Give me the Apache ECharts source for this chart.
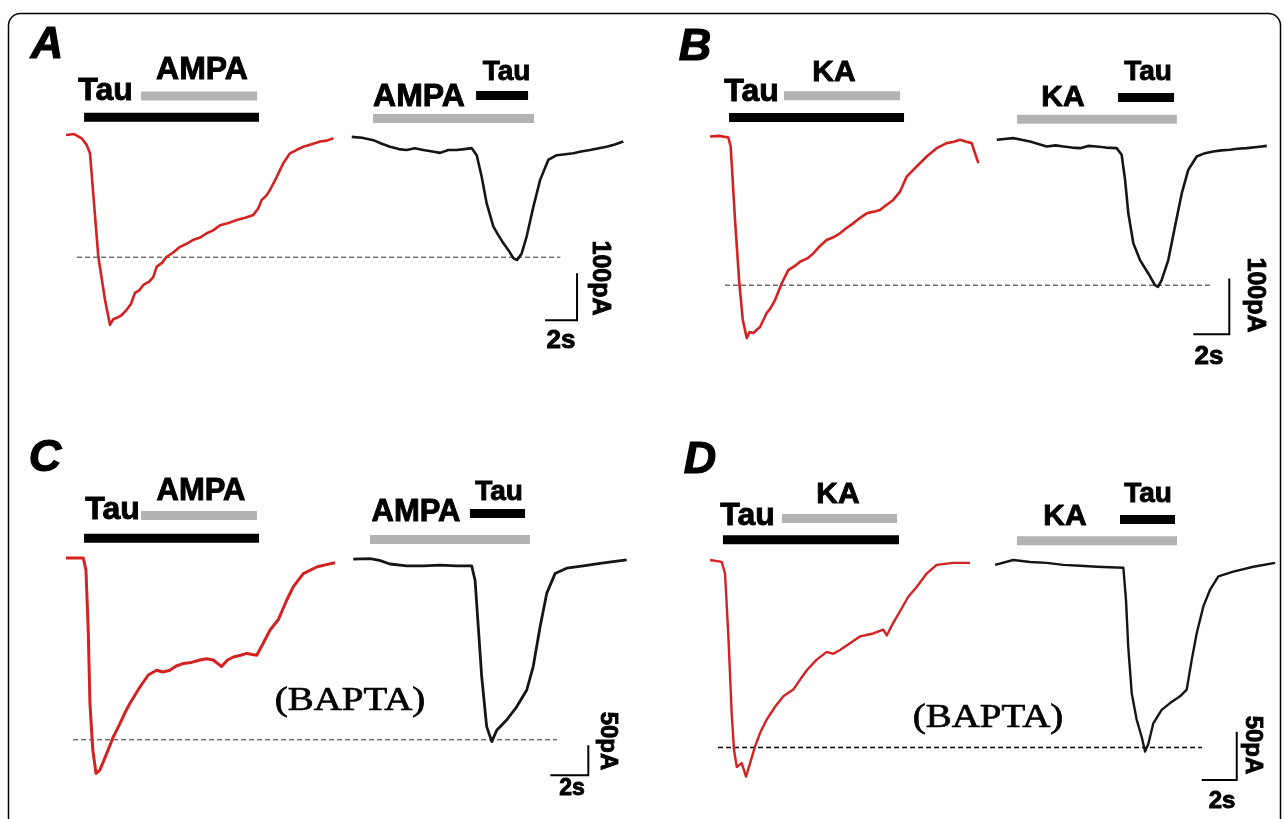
<!DOCTYPE html>
<html><head><meta charset="utf-8">
<script src="https://cdn.jsdelivr.net/npm/echarts@6/dist/echarts.min.js"></script>
<style>html,body{margin:0;padding:0;background:#fff}#c{width:1284px;height:819px}</style>
</head><body><div id="c"></div>
<script>
// ---------- DATA (time in s, current in pA) ----------
const redA = [[0,0],[0.5,2],[0.98,-7],[1.29,-21],[1.5,-39],[2.02,-259],[2.44,-351],[2.75,-404],[2.95,-392],[3.17,-389],[3.45,-384],[3.79,-372],[4.05,-360],[4.31,-336],[4.6,-330],[4.83,-319],[5.2,-312],[5.46,-302],[5.67,-280],[6.0,-272],[6.29,-259],[6.7,-250],[7.13,-238],[7.5,-232],[7.96,-223],[8.4,-218],[8.79,-209],[9.2,-203],[9.63,-192],[10.1,-188],[10.67,-181],[11.2,-176],[11.71,-170],[12.02,-156],[12.23,-138],[12.5,-130],[12.75,-117],[13.17,-89],[13.58,-60],[14,-39],[14.4,-32],[14.83,-25],[15.3,-20],[15.88,-14],[16.3,-12],[16.71,-7]];
const blackA = [[17.86,-4],[18.5,-6],[19.21,-11],[19.7,-18],[20.25,-25],[20.8,-30],[21.29,-32],[21.8,-28],[22.33,-32],[22.9,-35],[23.38,-38],[23.9,-32],[24.42,-32],[24.9,-30],[25.36,-28],[25.67,-43],[25.98,-89],[26.29,-145],[26.71,-195],[27.0,-212],[27.33,-230],[27.65,-245],[27.96,-262],[28.19,-266],[28.48,-252],[28.79,-216],[29.21,-153],[29.63,-96],[30.14,-53],[30.67,-43],[31.2,-41],[31.71,-39],[32.2,-35],[32.75,-32],[33.3,-28],[33.79,-25],[34.3,-20],[34.83,-14]];
const drugsA = [["Tau",1.13,12.06,38],["AMPA",4.69,11.94,83],["AMPA",19.19,29.25,35],["Tau",25.63,28.88,84]];
const peakA = [-260, 0.69, 30.9];   // level pA, from s, to s
const scaleA = [2, 100];            // s, pA

const redB = [[0,1],[0.5,2],[1.02,-1],[1.15,-17],[1.39,-149],[1.63,-263],[1.82,-328],[2.04,-361],[2.2,-350],[2.41,-352],[2.6,-346],[2.78,-341],[3.15,-316],[3.35,-308],[3.61,-293],[3.98,-263],[4.35,-239],[4.7,-232],[5,-224],[5.4,-218],[5.74,-209],[6.1,-196],[6.48,-185],[6.85,-180],[7.22,-173],[7.6,-163],[7.96,-155],[8.3,-146],[8.71,-137],[9.1,-134],[9.44,-131],[9.8,-122],[10.18,-113],[10.56,-98],[10.93,-71],[11.2,-62],[11.48,-53],[12.04,-35],[12.59,-20],[13.15,-11],[13.5,-9],[13.89,-5],[14.2,-8],[14.54,-11],[14.72,-29],[14.91,-47]];
const blackB = [[15.93,-5],[16.85,-2],[17.3,-5],[17.78,-8],[18.2,-12],[18.71,-17],[19.2,-15],[19.63,-17],[20.1,-19],[20.56,-20],[21.0,-16],[21.48,-17],[22.0,-19],[22.59,-20],[22.87,-32],[23.06,-77],[23.24,-137],[23.52,-191],[23.89,-221],[24.35,-245],[24.72,-266],[24.89,-269],[25.09,-257],[25.46,-221],[25.83,-161],[26.21,-101],[26.57,-59],[27.04,-35],[27.5,-29],[27.96,-26],[28.4,-24],[28.89,-23],[29.3,-21],[29.82,-20],[30.4,-18],[30.93,-16]];
const drugsB = [["Tau",1.06,10.78,35],["KA",4.11,10.56,74],["KA",17.06,25.94,32],["Tau",22.67,25.78,71]];
const peakB = [-266, 0.83, 27.78];
const scaleB = [2, 100];

const redC = [[0,0],[0.91,0],[1.05,-20],[1.17,-120],[1.26,-242],[1.41,-320],[1.58,-359],[1.79,-353],[2.14,-326],[2.49,-298],[2.84,-276],[3.1,-258],[3.37,-242],[3.89,-215],[4.33,-195],[4.77,-187],[5.1,-190],[5.47,-187],[5.8,-180],[6.17,-176],[6.6,-174],[7.05,-170],[7.4,-168],[7.75,-170],[8.19,-181],[8.5,-170],[8.81,-165],[9.2,-162],[9.51,-159],[10.04,-162],[10.38,-142],[10.74,-120],[11.17,-103],[11.62,-70],[11.96,-48],[12.49,-26],[13.19,-15],[13.7,-11],[14.16,-8]];
const blackC = [[15.12,-2],[16,-1],[16.5,-4],[17.05,-10],[17.93,-13],[18.81,-13],[19.68,-12],[20.56,-13],[21.35,-13],[21.53,-37],[21.7,-115],[21.88,-198],[22.14,-281],[22.41,-306],[22.67,-287],[23.19,-270],[23.72,-248],[24.25,-220],[24.59,-181],[24.95,-115],[25.3,-59],[25.74,-26],[26.35,-17],[27.23,-13],[28.11,-9],[28.8,-6],[29.51,-3]];
const drugsC = [["Tau",0.95,10.16,33],["AMPA",3.95,10.05,71],["AMPA",16,24.42,31],["Tau",21.26,24.16,74]];
const peakC = [-303, 0.37, 25.84];
const scaleC = [2, 50];

const redD = [[0,0],[0.67,-2],[0.86,-14],[1.05,-79],[1.24,-159],[1.37,-196],[1.53,-214],[1.81,-210],[2.06,-224],[2.29,-210],[2.57,-193],[2.86,-179],[3.24,-165],[3.71,-152],[4.19,-141],[4.76,-134],[5.14,-124],[5.53,-114],[6.1,-103],[6.67,-95],[7.05,-97],[7.43,-93],[8,-86],[8.57,-79],[9.33,-76],[9.9,-72],[10.1,-78],[10.47,-65],[10.86,-53],[11.33,-38],[11.81,-28],[12.38,-14],[12.95,-5],[13.9,-3],[14.86,-3]];
const blackD = [[16.29,-5],[17.33,0],[18.29,-2],[19.24,-3],[20.19,-5],[21.14,-6],[22.1,-7],[23.62,-8],[23.77,-41],[23.9,-90],[24.1,-138],[24.38,-165],[24.67,-183],[24.86,-198],[25.05,-190],[25.33,-169],[25.81,-155],[26.29,-148],[26.86,-141],[27.24,-134],[27.53,-103],[27.81,-76],[28.19,-48],[28.57,-31],[29.05,-17],[29.9,-12],[31.05,-7],[32.29,-3]];
const drugsD = [["Tau",0.74,10.8,21],["KA",4.11,10.69,43],["KA",17.54,26.69,20],["Tau",23.43,26.57,42]];
const peakD = [-194, 0.46, 28.11];
const scaleD = [2, 50];

// ---------- LAYOUT ----------
const panels = [
  {red:redA, black:blackA, drugs:drugsA, peak:peakA, scale:scaleA, origin:[66,135], pxS:16, pxPA:0.47, xr:[-3,36], yr:[-500,200], corner:[31.94,-394], redW:2.6, blkW:2.6, dashC:'#333', dashW:1},
  {red:redB, black:blackB, drugs:drugsB, peak:peakB, scale:scaleB, origin:[710,137], pxS:18, pxPA:0.557, xr:[-3,31.5], yr:[-450,150], corner:[28.85,-354], redW:2.6, blkW:2.6, dashC:'#222', dashW:1},
  {red:redC, black:blackC, drugs:drugsC, peak:peakC, scale:scaleC, origin:[66,558], pxS:19, pxPA:0.6, xr:[-3,30], yr:[-400,150], corner:[27.49,-362], redW:3, blkW:2.8, dashC:'#333', dashW:1},
  {red:redD, black:blackD, drugs:drugsD, peak:peakD, scale:scaleD, origin:[710,560], pxS:17.5, pxPA:0.967, xr:[-3,32.5], yr:[-250,100], corner:[30.1,-227.5], redW:2.4, blkW:2.4, dashC:'#000', dashW:1.5}
];
const RED = '#d42121', BLK = '#151515', GRAY = '#b3b3b3';

const grids=[], xAxes=[], yAxes=[], series=[];
panels.forEach((p,i)=>{
  grids.push({left:p.origin[0]+p.xr[0]*p.pxS, top:p.origin[1]-p.yr[1]*p.pxPA,
    width:(p.xr[1]-p.xr[0])*p.pxS, height:(p.yr[1]-p.yr[0])*p.pxPA});
  xAxes.push({type:'value', gridIndex:i, min:p.xr[0], max:p.xr[1], show:false});
  yAxes.push({type:'value', gridIndex:i, min:p.yr[0], max:p.yr[1], show:false});
  const base = {type:'line', xAxisIndex:i, yAxisIndex:i, showSymbol:false, symbol:'none', silent:true, animation:false, clip:false};
  series.push(Object.assign({}, base, {data:[[p.peak[1],p.peak[0]],[p.peak[2],p.peak[0]]],
    lineStyle:{color:p.dashC, width:p.dashW, type:[5,3]}}));
  p.drugs.forEach(d=>{
    series.push(Object.assign({}, base, {data:[[d[1],d[3]],[d[2],d[3]]],
      lineStyle:{color:d[0]==='Tau'?'#000':GRAY, width:9, cap:'butt'}}));
  });
  series.push(Object.assign({}, base, {data:p.red, lineStyle:{color:RED, width:p.redW, join:'round'}}));
  series.push(Object.assign({}, base, {data:p.black, lineStyle:{color:BLK, width:p.blkW, join:'round'}}));
  const c = p.corner;
  series.push(Object.assign({}, base, {data:[[c[0]-p.scale[0],c[1]],[c[0],c[1]],[c[0],c[1]+p.scale[1]]],
    lineStyle:{color:'#000', width:2, join:'miter'}}));
});

function txt(t,x,y,size,opt){
  opt = opt||{};
  const st = {text:t, font:(opt.font||('bold '+size+'px "Liberation Sans", Arial, sans-serif')), fill:'#000', align:'center', verticalAlign:'middle'};
  const sw = opt.sw===undefined ? 0.9 : opt.sw;
  if (sw>0){ st.stroke='#000'; st.lineWidth=sw; }
  return {type:'text', x:x, y:y, rotation:opt.rot||0, scaleX:opt.sx||1, silent:true, z:10, style:st};
}
const LET = s=>'italic bold '+s+'px "Liberation Sans", Arial, sans-serif';
const SERIF = '33px "Liberation Serif", "Times New Roman", serif';
const R = -Math.PI/2;
const graphics = [
  {type:'rect', shape:{x:8.5,y:13.5,width:1272,height:840,r:12}, style:{fill:'none', stroke:'#000', lineWidth:1.5}, silent:true},
  txt('A',47,46,0,{font:LET(45),sw:1.2}), txt('B',695,48,0,{font:LET(45),sw:1.2}), txt('C',45,459,0,{font:LET(45),sw:1.2}), txt('D',700,461,0,{font:LET(45),sw:1.2}),
  txt('Tau',105.5,91,32), txt('AMPA',202,70,32), txt('AMPA',419,97,32), txt('Tau',506.5,72,28),
  txt('100pA',600,278,25,{rot:R}), txt('2s',561,341,26),
  txt('Tau',751.5,92.5,32), txt('KA',834,73,30), txt('KA',1063,97.5,30), txt('Tau',1148,72,28),
  txt('100pA',1255,295,25,{rot:R}), txt('2s',1209,357,26),
  txt('Tau',112.5,510,32), txt('AMPA',201,491,31), txt('AMPA',416,512,31), txt('Tau',499,492,28),
  txt('(BAPTA)',350,701,0,{font:SERIF, sx:1.18, sw:0.7}), txt('50pA',608,741,24,{rot:R}), txt('2s',572,789,23),
  txt('Tau',747.5,516,32), txt('KA',838,495,30), txt('KA',1065,517,30), txt('Tau',1148,494,28),
  txt('(BAPTA)',988,718,0,{font:SERIF, sx:1.18, sw:0.7}), txt('50pA',1253,745,24,{rot:R}), txt('2s',1222,801,24)
];

const chart = echarts.init(document.getElementById('c'), null, {renderer:'canvas'});
chart.setOption({animation:false, backgroundColor:'#fff', grid:grids, xAxis:xAxes, yAxis:yAxes, series:series, graphic:graphics});
</script></body></html>
